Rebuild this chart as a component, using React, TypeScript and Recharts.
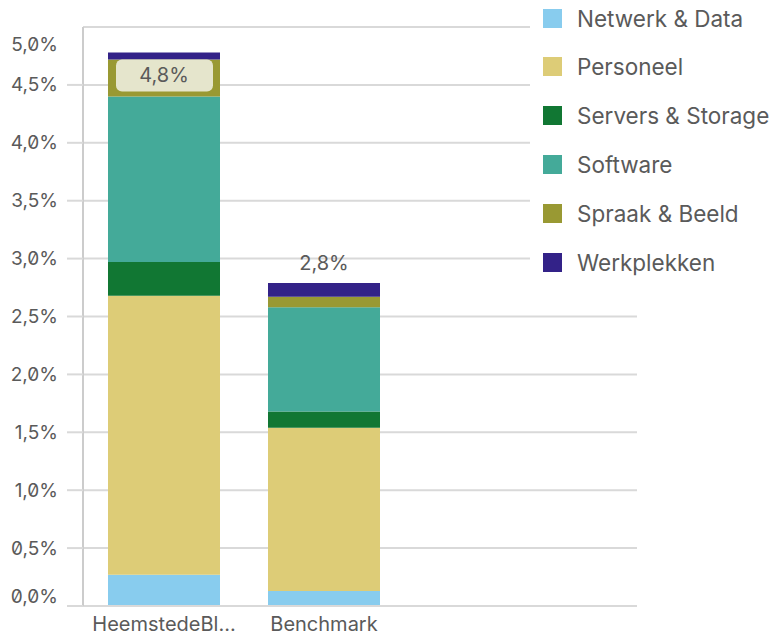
import React from "react";
import {
  BarChart,
  Bar,
  XAxis,
  YAxis,
  CartesianGrid,
  LabelList,
} from "recharts";

const categories = ["HeemstedeBl...", "Benchmark"];
const netwerkData = [0.27, 0.13];
const personeel = [2.41, 1.41];
const serversStorage = [0.29, 0.14];
const software = [1.43, 0.9];
const spraakBeeld = [0.32, 0.09];
const werkplekken = [0.06, 0.12];
const yTicks = [0, 0.5, 1, 1.5, 2, 2.5, 3, 3.5, 4, 4.5, 5];

const series = [
  { key: "netwerk", name: "Netwerk & Data", values: netwerkData, color: "#88CCEE" },
  { key: "personeel", name: "Personeel", values: personeel, color: "#DDCC77" },
  { key: "servers", name: "Servers & Storage", values: serversStorage, color: "#117733" },
  { key: "software", name: "Software", values: software, color: "#44AA99" },
  { key: "spraak", name: "Spraak & Beeld", values: spraakBeeld, color: "#999933" },
  { key: "werkplekken", name: "Werkplekken", values: werkplekken, color: "#332288" },
];

const data = categories.map((name, i) => {
  const row: Record<string, number | string> = { name };
  let total = 0;
  series.forEach((s) => {
    row[s.key] = s.values[i];
    total += s.values[i];
  });
  row.total = total;
  return row;
});

const FONT = "Inter, 'Noto Sans', sans-serif";
const TEXT = "#5a5a5a";
const GRID = "#d9d9d9";
const PLOT_TOP = 27;

const fmt = (v: number) => v.toFixed(1).replace(".", ",") + "%";

const YTick = (props: any) => {
  const { x, y, payload } = props;
  const v = payload.value;
  let dy = 0;
  if (v === 5) dy = 17;
  if (v === 0) dy = -10;
  return (
    <g>
      {v !== 5 && <line x1={x - 16} x2={x} y1={y} y2={y} stroke={GRID} strokeWidth={2} />}
      <text
        x={x - 25}
        y={y + dy}
        textAnchor="end"
        dominantBaseline="central"
        fill={TEXT}
        fontSize={19}
        fontFamily={FONT}
        style={{ fontFeatureSettings: '"zero" 1' }}
      >
        {fmt(v)}
      </text>
    </g>
  );
};

const XTick = (props: any) => {
  const { x, y, payload } = props;
  return (
    <text
      x={x}
      y={y + 4}
      textAnchor="middle"
      dominantBaseline="central"
      fill={TEXT}
      fontSize={20}
      fontFamily={FONT}
    >
      {payload.value}
    </text>
  );
};

const TotalLabel = (props: any) => {
  const { x, y, width, value } = props;
  const cx = x + width / 2;
  if (y - PLOT_TOP < 30) {
    return (
      <g>
        <rect x={cx - 48} y={y + 7} width={97} height={32} rx={6} fill="#e5e5cc" />
        <text
          x={cx}
          y={y + 23}
          textAnchor="middle"
          dominantBaseline="central"
          fill={TEXT}
          fontSize={20}
          fontFamily={FONT}
          style={{ fontFeatureSettings: '"zero" 1' }}
        >
          {fmt(value)}
        </text>
      </g>
    );
  }
  return (
    <text
      x={cx}
      y={y - 20}
      textAnchor="middle"
      dominantBaseline="central"
      fill={TEXT}
      fontSize={20}
      fontFamily={FONT}
      style={{ fontFeatureSettings: '"zero" 1' }}
    >
      {fmt(value)}
    </text>
  );
};

export default function App() {
  return (
    <div style={{ position: "absolute", left: 0, top: 0, width: 771, height: 638, background: "#fff" }}>
      <BarChart
        width={771}
        height={638}
        data={data}
        margin={{ top: PLOT_TOP, right: 134, bottom: 0, left: 0 }}
      >
        <CartesianGrid vertical={false} stroke={GRID} strokeWidth={2} />
        <XAxis
          dataKey="name"
          height={32}
          padding={{ left: 1, right: 233 }}
          tickLine={false}
          tickSize={0}
          tickMargin={14}
          axisLine={{ stroke: GRID, strokeWidth: 2 }}
          tick={<XTick />}
          interval={0}
        />
        <YAxis
          width={83}
          domain={[0, 5]}
          ticks={yTicks}
          tickLine={false}
          tickSize={0}
          tickMargin={0}
          axisLine={{ stroke: "#cccccc", strokeWidth: 2 }}
          tick={<YTick />}
        />
        {series.map((s, i) => (
          <Bar
            key={s.key}
            dataKey={s.key}
            name={s.name}
            stackId="a"
            fill={s.color}
            barSize={112}
            isAnimationActive={false}
          >
            {i === series.length - 1 && <LabelList dataKey="total" content={<TotalLabel />} />}
          </Bar>
        ))}
      </BarChart>
      <div
        style={{
          position: "absolute",
          left: 530,
          top: 0,
          width: 241,
          height: 285,
          background: "#fff",
          fontFamily: FONT,
        }}
      >
        {series.map((s, i) => (
          <div
            key={s.key}
            style={{
              position: "absolute",
              left: 13,
              top: 18 - 15 + i * 48.8,
              height: 30,
              display: "flex",
              alignItems: "center",
              whiteSpace: "nowrap",
            }}
          >
            <div style={{ width: 19, height: 19, background: s.color, marginRight: 15 }} />
            <span style={{ fontSize: 22.5, color: TEXT }}>{s.name}</span>
          </div>
        ))}
      </div>
    </div>
  );
}
